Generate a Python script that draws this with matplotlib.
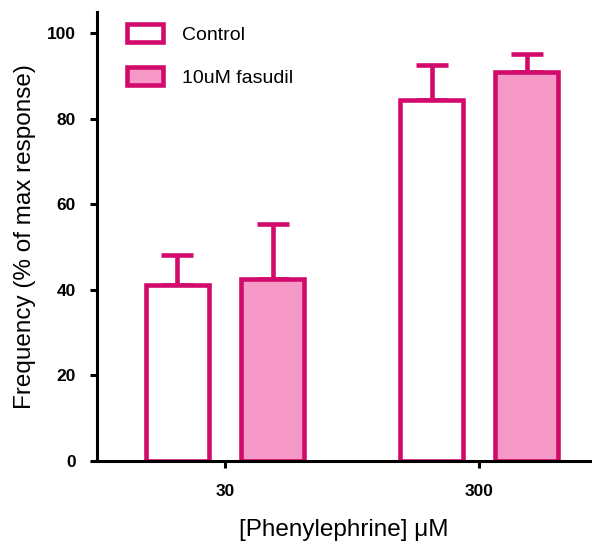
import matplotlib
matplotlib.use("Agg")
import matplotlib.pyplot as plt
import numpy as np

plt.rcParams['font.family'] = ['Liberation Sans', 'DejaVu Sans']

categories = ["30", "300"]
series_names = ["Control", "10uM fasudil"]
control_mean = [41.2, 84.5]
control_err = [7.0, 8.2]
fasudil_mean = [42.6, 90.9]
fasudil_err = [12.9, 4.4]
yticks = [0, 20, 40, 60, 80, 100]

edge = "#D10A6C"
fill_colors = ["white", "#F799C7"]

fig = plt.figure(figsize=(5.98, 5.48), dpi=100)
ax = fig.add_axes([0.162, 0.159, 0.825, 0.819])

x = np.arange(len(categories))
w = 0.25
off = 0.187
for i, (means, errs) in enumerate([(control_mean, control_err), (fasudil_mean, fasudil_err)]):
    pos = x + (-off if i == 0 else off)
    ax.bar(pos, means, width=w, color=fill_colors[i], edgecolor=edge, linewidth=3.3,
           label=series_names[i], zorder=2)
    ax.errorbar(pos, means, yerr=[np.zeros(len(errs)), errs], fmt='none',
                ecolor=edge, elinewidth=3.3, capsize=11.5, capthick=3.3, zorder=1)

ax.set_xlim(-0.504, 1.437)
ax.set_ylim(0, 105)
ax.set_xticks(x)
ax.set_xticklabels(categories, fontsize=12.5, fontweight='bold')
ax.set_yticks(yticks)
ax.set_yticklabels([str(v) for v in yticks], fontsize=12.5, fontweight='bold')
for s in ['top', 'right']:
    ax.spines[s].set_visible(False)
for s in ['left', 'bottom']:
    ax.spines[s].set_linewidth(2.2)
ax.tick_params(axis='y', width=2.2, length=5, pad=10)
ax.tick_params(axis='x', width=2.2, length=5, pad=12)

ax.set_ylabel("Frequency (% of max response)", fontsize=17.5, labelpad=8)
ax.set_xlabel("[Phenylephrine] \u03bcM", fontsize=17.5, labelpad=14)

leg = ax.legend(loc='upper left', bbox_to_anchor=(0.025, 1.012), frameon=False,
                fontsize=14, handlelength=1.85, handleheight=1.05, handletextpad=1.0,
                labelspacing=1.2)

fig.savefig("out.png", dpi=100)
